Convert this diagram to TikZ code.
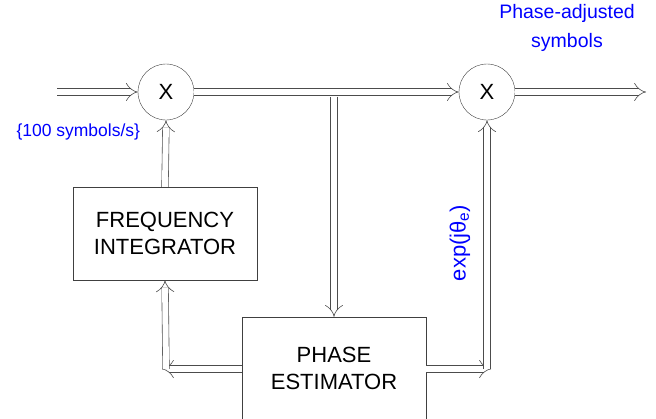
\documentclass[tikz,border=0pt]{standalone}
\usepackage{fontspec}
\setmainfont{Liberation Sans}
\usetikzlibrary{arrows.meta}

\begin{document}
\begin{tikzpicture}[
  x=1pt, y=-1pt,
  mixer/.style={circle, draw=black!75, minimum size=56pt, inner sep=0pt, font=\fontsize{22}{22}\selectfont},
  block/.style={rectangle, draw=black!75, minimum width=184pt, align=center, font=\fontsize{22}{27}\selectfont},
  bluetext/.style={text=blue, align=center, font=\fontsize{17.5}{29}\selectfont},
  dbl/.style={draw=black!70, double=white, double distance=6pt, line width=0.6pt, -{Implies}}
]
\useasboundingbox (0,0) rectangle (656,418);
\node[mixer] (mixA) at (166,92) {X};
\node[mixer] (mixB) at (487,92) {X};
\node[block, minimum height=93pt] (freqint) at (165,233.5) {FREQUENCY\\INTEGRATOR};
\node[block, minimum height=102pt] (phaseest) at (334,368) {PHASE\\ESTIMATOR};
\coordinate (in) at (57,92);
\coordinate (out) at (646,92);
\coordinate (tap) at (334,96.5);
\coordinate (fbl) at (166,369);
\coordinate (fbr) at (487,369);
% signal path
\draw[dbl] (in) -- (mixA.west);
\draw[dbl] (mixA.east) -- (mixB.west);
\draw[dbl] (mixB.east) -- (out);
\draw[dbl] (tap) -- (phaseest.north);
% feedback
\draw[dbl] (phaseest.west |- fbl) -- ([xshift=-4pt]fbl);
\draw[dbl] (fbl) -- (freqint.south);
\draw[dbl] (freqint.north) -- (mixA.south);
\draw[dbl] (phaseest.east |- fbr) -- ([xshift=4pt]fbr);
\draw[dbl] (fbr) -- (mixB.south);
% labels
\node[bluetext, anchor=west] (rate) at (13,132) {\{100 symbols/s\}};
\node[bluetext, font=\fontsize{19.5}{29}\selectfont] (outlbl) at (567,28) {Phase-adjusted\\symbols};
\node[bluetext, rotate=90, font=\fontsize{22}{22}\selectfont] (phlbl) at (460,243) {exp(jθ\textsubscript{e})};
\end{tikzpicture}
\end{document}
